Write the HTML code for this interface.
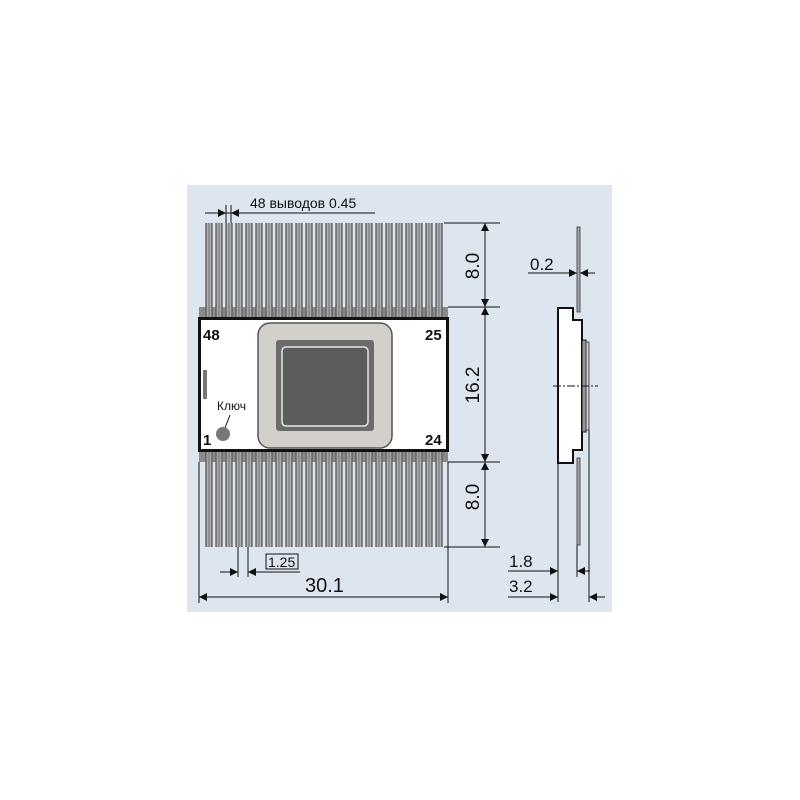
<!DOCTYPE html>
<html><head><meta charset="utf-8"><style>
html,body{margin:0;padding:0;background:#fff;}
svg{display:block;}
text{font-family:"Liberation Sans","DejaVu Sans",sans-serif;fill:#111;}
</style></head><body>
<svg width="800" height="800" viewBox="0 0 800 800" xmlns="http://www.w3.org/2000/svg">
<defs>
<pattern id="pins" x="205.5" y="0" width="10" height="800" patternUnits="userSpaceOnUse">
<rect x="0.5" y="0" width="6" height="800" fill="#b0b0b0" stroke="#333" stroke-width="1"/>
<line x1="3.5" y1="0" x2="3.5" y2="800" stroke="#5a5a5a" stroke-width="0.8"/>
</pattern>
<marker id="ar" viewBox="0 0 10 10" refX="10" refY="5" markerWidth="12" markerHeight="8" orient="auto-start-reverse" markerUnits="userSpaceOnUse"><path d="M0,0 L10,5 L0,10 z" fill="#111"/></marker>
</defs>
<rect x="187" y="185" width="425" height="427" fill="#dde6ef"/>
<rect x="205" y="223" width="239" height="85" fill="url(#pins)"/>
<rect x="205" y="461" width="239" height="86" fill="url(#pins)"/>
<rect x="199" y="307" width="249" height="11" fill="#8a8a8a"/>
<rect x="205" y="307" width="239" height="11" fill="url(#pins)" opacity="0.7"/>
<rect x="199" y="451" width="249" height="11" fill="#8a8a8a"/>
<rect x="205" y="451" width="239" height="11" fill="url(#pins)" opacity="0.7"/>
<rect x="199.5" y="318.5" width="248" height="132" fill="#fff" stroke="#111" stroke-width="3"/>
<rect x="258" y="323" width="134" height="125" rx="12" fill="#d3cfcb" stroke="#555" stroke-width="1.5"/>
<rect x="276" y="340" width="98" height="91" rx="3" fill="#6b6b6b"/>
<rect x="282" y="347" width="86" height="79" rx="4" fill="#5c5c5c" stroke="#e6e6e6" stroke-width="1.5"/>
<text x="203" y="340" font-size="15" font-weight="bold">48</text>
<text x="425" y="340" font-size="15" font-weight="bold">25</text>
<text x="203" y="445" font-size="15" font-weight="bold">1</text>
<text x="425" y="445" font-size="15" font-weight="bold">24</text>
<rect x="203" y="370" width="4" height="29" fill="#777"/>
<text x="217" y="410" font-size="12">Ключ</text>
<line x1="230" y1="415" x2="225" y2="428" stroke="#111" stroke-width="1"/>
<circle cx="223" cy="434" r="7" fill="#777"/>
<text x="250" y="208" font-size="14">48 выводов 0.45</text>
<line x1="205" y1="213" x2="375" y2="213" stroke="#111" stroke-width="1"/>
<line x1="226" y1="205" x2="226" y2="223" stroke="#111"/>
<line x1="231" y1="205" x2="231" y2="223" stroke="#111"/>
<line x1="208" y1="213" x2="226" y2="213" stroke="#111" marker-end="url(#ar)"/>
<line x1="245" y1="213" x2="231" y2="213" stroke="#111" marker-end="url(#ar)"/>
<g stroke="#111" stroke-width="1">
<line x1="444" y1="223" x2="500" y2="223"/>
<line x1="448" y1="307" x2="500" y2="307"/>
<line x1="448" y1="462" x2="500" y2="462"/>
<line x1="444" y1="547" x2="500" y2="547"/>
<line x1="485" y1="223" x2="485" y2="307" marker-start="url(#ar)" marker-end="url(#ar)"/>
<line x1="485" y1="307" x2="485" y2="462" marker-start="url(#ar)" marker-end="url(#ar)"/>
<line x1="485" y1="462" x2="485" y2="547" marker-start="url(#ar)" marker-end="url(#ar)"/>
</g>
<text transform="translate(479,266) rotate(-90)" font-size="19" text-anchor="middle">8.0</text>
<text transform="translate(479,385) rotate(-90)" font-size="19" text-anchor="middle">16.2</text>
<text transform="translate(479,497) rotate(-90)" font-size="19" text-anchor="middle">8.0</text>
<g stroke="#111" stroke-width="1">
<line x1="199" y1="462" x2="199" y2="603"/>
<line x1="448" y1="462" x2="448" y2="603"/>
<line x1="199" y1="597" x2="448" y2="597" marker-start="url(#ar)" marker-end="url(#ar)"/>
<line x1="238" y1="547" x2="238" y2="577"/>
<line x1="248" y1="547" x2="248" y2="577"/>
<line x1="220" y1="572" x2="238" y2="572" marker-end="url(#ar)"/>
<line x1="300" y1="572" x2="248" y2="572" marker-end="url(#ar)"/>
<rect x="266" y="554" width="32" height="15" fill="none"/>
</g>
<text x="268" y="567" font-size="14">1.25</text>
<text x="305" y="592" font-size="20">30.1</text>
<rect x="577" y="227" width="3" height="85" fill="#a9a9a9" stroke="#333" stroke-width="0.8"/>
<rect x="577" y="458" width="3" height="87" fill="#a9a9a9" stroke="#333" stroke-width="0.8"/>
<path d="M558,308 H573 V320 H582 V450 H573 V463 H558 Z" fill="#fff" stroke="#111" stroke-width="2"/>
<path d="M582,340 H586 V432 H582 Z" fill="#999" stroke="#111" stroke-width="1"/>
<rect x="586" y="342" width="3" height="88" fill="#ccc" stroke="#333" stroke-width="0.8"/>
<line x1="553" y1="386" x2="598" y2="386" stroke="#111" stroke-dasharray="8,2,2,2"/>
<g stroke="#111" stroke-width="1">
<line x1="528" y1="273" x2="577" y2="273" marker-end="url(#ar)"/>
<line x1="595" y1="273" x2="580" y2="273" marker-end="url(#ar)"/>
<line x1="558" y1="463" x2="558" y2="602"/>
<line x1="577" y1="545" x2="577" y2="577"/>
<line x1="589" y1="430" x2="589" y2="602"/>
<line x1="508" y1="571" x2="558" y2="571" marker-end="url(#ar)"/>
<line x1="590" y1="571" x2="577" y2="571" marker-end="url(#ar)"/>
<line x1="508" y1="597" x2="558" y2="597" marker-end="url(#ar)"/>
<line x1="605" y1="597" x2="589" y2="597" marker-end="url(#ar)"/>
</g>
<text x="530" y="270" font-size="17">0.2</text>
<text x="509" y="567" font-size="17">1.8</text>
<text x="509" y="592" font-size="17">3.2</text>
</svg>
</body></html>
